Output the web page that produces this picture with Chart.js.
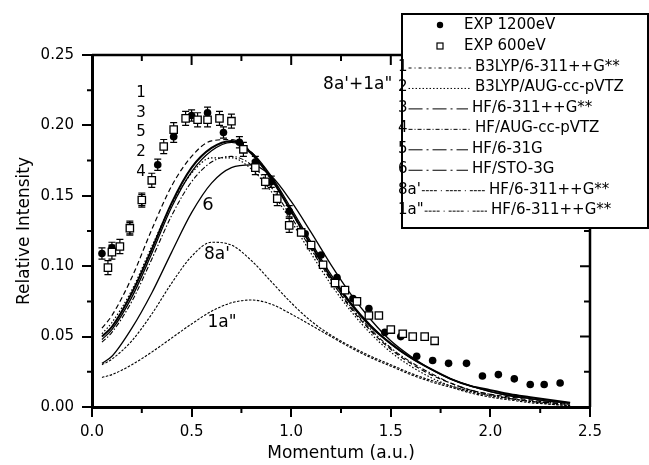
<!DOCTYPE html>
<html>
<head>
<meta charset="utf-8">
<script src="https://cdn.jsdelivr.net/npm/chart.js@4/dist/chart.umd.min.js"></script>
<style>
  html, body { margin: 0; padding: 0; background: #fff; }
  #wrap { width: 649px; height: 465px; }
</style>
</head>
<body>
<div id="wrap"><canvas id="chart" width="649" height="465"></canvas></div>
<script>
// momentum grid of the calculated curves (a.u.)
const momentum = [0.05, 0.1, 0.2, 0.3, 0.4, 0.5, 0.6, 0.7, 0.8, 0.9, 1.0, 1.1, 1.2, 1.3, 1.4, 1.5, 1.6, 1.7, 1.8, 1.9, 2.0, 2.1, 2.2, 2.3, 2.4];

const b3lyp6311 = [0.056, 0.065, 0.092, 0.126, 0.157, 0.178, 0.189, 0.190, 0.181, 0.163, 0.139, 0.113, 0.090, 0.070, 0.054, 0.041, 0.031, 0.023, 0.017, 0.012, 0.009, 0.007, 0.005, 0.003, 0.002];
const b3lypAug   = [0.052, 0.060, 0.083, 0.114, 0.144, 0.166, 0.177, 0.177, 0.169, 0.153, 0.132, 0.109, 0.087, 0.068, 0.052, 0.039, 0.029, 0.021, 0.015, 0.011, 0.008, 0.006, 0.004, 0.003, 0.002];
const hf6311     = [0.050, 0.057, 0.081, 0.112, 0.145, 0.170, 0.184, 0.189, 0.180, 0.162, 0.139, 0.115, 0.092, 0.073, 0.057, 0.045, 0.035, 0.027, 0.020, 0.015, 0.012, 0.009, 0.007, 0.005, 0.003];
const hfAug      = [0.046, 0.053, 0.075, 0.105, 0.136, 0.160, 0.174, 0.178, 0.172, 0.156, 0.135, 0.112, 0.090, 0.071, 0.055, 0.042, 0.032, 0.024, 0.017, 0.012, 0.009, 0.006, 0.004, 0.003, 0.002];
const hf631g     = [0.048, 0.055, 0.078, 0.109, 0.142, 0.167, 0.182, 0.188, 0.181, 0.164, 0.141, 0.117, 0.094, 0.074, 0.058, 0.045, 0.035, 0.027, 0.020, 0.015, 0.011, 0.008, 0.006, 0.004, 0.003];
const hfSto3g    = [0.031, 0.036, 0.056, 0.081, 0.110, 0.138, 0.159, 0.170, 0.172, 0.164, 0.146, 0.124, 0.101, 0.080, 0.062, 0.047, 0.036, 0.027, 0.020, 0.015, 0.011, 0.008, 0.006, 0.004, 0.003];
const orb8a      = [0.030, 0.034, 0.047, 0.066, 0.088, 0.107, 0.117, 0.115, 0.104, 0.089, 0.074, 0.061, 0.051, 0.043, 0.036, 0.030, 0.024, 0.019, 0.015, 0.011, 0.008, 0.006, 0.004, 0.002, 0.001];
const orb1a      = [0.021, 0.023, 0.030, 0.039, 0.049, 0.059, 0.068, 0.074, 0.076, 0.073, 0.066, 0.058, 0.050, 0.042, 0.035, 0.029, 0.023, 0.018, 0.014, 0.010, 0.007, 0.005, 0.003, 0.002, 0.001];

// experiment, 1200 eV
const exp1200X   = [0.05, 0.10, 0.19, 0.25, 0.33, 0.41, 0.50, 0.58, 0.66, 0.74, 0.82, 0.90, 0.99, 1.07, 1.15, 1.23, 1.31, 1.39, 1.47, 1.55, 1.63, 1.71, 1.79, 1.88, 1.96, 2.04, 2.12, 2.20, 2.27, 2.35];
const exp1200Y   = [0.109, 0.113, 0.127, 0.147, 0.172, 0.192, 0.207, 0.209, 0.195, 0.188, 0.174, 0.160, 0.139, 0.123, 0.108, 0.092, 0.077, 0.070, 0.053, 0.050, 0.036, 0.033, 0.031, 0.031, 0.022, 0.023, 0.020, 0.016, 0.016, 0.017];
const exp1200Err = [0.004, 0.004, 0.004, 0.004, 0.004, 0.004, 0.004, 0.004, 0.004, 0.004, 0.004, 0.004, 0.004, 0, 0, 0, 0, 0, 0, 0, 0, 0, 0, 0, 0, 0, 0, 0, 0, 0];

// experiment, 600 eV
const exp600X    = [0.08, 0.10, 0.14, 0.19, 0.25, 0.30, 0.36, 0.41, 0.47, 0.53, 0.58, 0.64, 0.70, 0.76, 0.82, 0.87, 0.93, 0.99, 1.05, 1.10, 1.16, 1.22, 1.27, 1.33, 1.39, 1.44, 1.50, 1.56, 1.61, 1.67, 1.72];
const exp600Y    = [0.099, 0.110, 0.114, 0.127, 0.147, 0.161, 0.185, 0.197, 0.205, 0.204, 0.204, 0.205, 0.203, 0.183, 0.170, 0.160, 0.148, 0.129, 0.124, 0.115, 0.101, 0.088, 0.083, 0.075, 0.065, 0.065, 0.055, 0.052, 0.050, 0.050, 0.047];
const exp600Err  = [0.005, 0.005, 0.005, 0.005, 0.005, 0.005, 0.005, 0.005, 0.005, 0.005, 0.005, 0.005, 0.005, 0.005, 0.005, 0.005, 0.005, 0.005, 0, 0, 0, 0, 0, 0, 0, 0, 0, 0, 0, 0, 0];

const xTickLabels = ['0.0', '0.5', '1.0', '1.5', '2.0', '2.5'];
const yTickLabels = ['0.00', '0.05', '0.10', '0.15', '0.20', '0.25'];

const seriesCodes = ['1', '2', '3', '4', '5', '6', "8a'", '1a"'];
const seriesNames = ['B3LYP/6-311++G**', 'B3LYP/AUG-cc-pVTZ', 'HF/6-311++G**', 'HF/AUG-cc-pVTZ', 'HF/6-31G', 'HF/STO-3G', 'HF/6-311++G**', 'HF/6-311++G**'];

const FONT = 'DejaVu Sans';
Chart.defaults.font.family = FONT;
Chart.defaults.color = '#000';

const pts = (xs, ys) => xs.map((x, i) => ({ x: x, y: ys[i] }));

function curve(i, values, width, dash, legendDash) {
  return {
    label: seriesCodes[i] + ' ' + seriesNames[i],
    code: seriesCodes[i],
    name: seriesNames[i],
    data: pts(momentum, values),
    borderColor: '#000',
    borderWidth: width,
    borderDash: dash,
    legendDash: legendDash,
    pointRadius: 0,
    fill: false,
    cubicInterpolationMode: 'monotone'
  };
}

const errorBars = {
  id: 'errorBars',
  beforeDatasetsDraw(chart) {
    const { ctx, scales: { x, y } } = chart;
    ctx.save();
    ctx.strokeStyle = '#000';
    ctx.lineWidth = 1.2;
    chart.data.datasets.forEach(ds => {
      if (!ds.errors) return;
      ds.data.forEach((p, i) => {
        const e = ds.errors[i];
        if (!e) return;
        const px = x.getPixelForValue(p.x);
        const top = y.getPixelForValue(p.y + e);
        const bot = y.getPixelForValue(p.y - e);
        ctx.beginPath();
        ctx.moveTo(px, top); ctx.lineTo(px, bot);
        ctx.moveTo(px - 3.5, top); ctx.lineTo(px + 3.5, top);
        ctx.moveTo(px - 3.5, bot); ctx.lineTo(px + 3.5, bot);
        ctx.stroke();
      });
    });
    ctx.restore();
  }
};

// text written inside the plot, placed in data units
const notes = [
  { text: '1', x: 0.246, y: 0.223, size: 15, align: 'center' },
  { text: '3', x: 0.246, y: 0.209, size: 15, align: 'center' },
  { text: '5', x: 0.246, y: 0.195, size: 15, align: 'center' },
  { text: '2', x: 0.246, y: 0.181, size: 15, align: 'center' },
  { text: '4', x: 0.246, y: 0.167, size: 15, align: 'center' },
  { text: '6', x: 0.582, y: 0.1435, size: 18, align: 'center' },
  { text: "8a'", x: 0.627, y: 0.108, size: 17, align: 'center' },
  { text: '1a"', x: 0.653, y: 0.060, size: 17, align: 'center' },
  { text: "8a'+1a\"", x: 1.16, y: 0.2287, size: 17, align: 'left' }
];

const frame = {
  id: 'frame',
  afterDraw(chart) {
    const { ctx, chartArea: a, scales: { x, y } } = chart;
    ctx.save();
    ctx.strokeStyle = '#000';
    ctx.fillStyle = '#000';

    // top and right sides of the box
    ctx.lineWidth = 2.5;
    ctx.beginPath();
    ctx.moveTo(a.left, a.top); ctx.lineTo(a.right, a.top); ctx.lineTo(a.right, a.bottom);
    ctx.stroke();

    // minor ticks outside, mirrored ticks inside
    ctx.lineWidth = 2;
    ctx.beginPath();
    for (let k = 0; k <= 10; k++) {
      const px = x.getPixelForValue(k * 0.25);
      const major = k % 2 === 0;
      if (!major) { ctx.moveTo(px, a.bottom); ctx.lineTo(px, a.bottom + 6); }
      ctx.moveTo(px, a.top); ctx.lineTo(px, a.top + (major ? 10 : 6));
    }
    for (let k = 0; k <= 10; k++) {
      const py = y.getPixelForValue(k * 0.025);
      const major = k % 2 === 0;
      if (!major) { ctx.moveTo(a.left, py); ctx.lineTo(a.left - 5, py); }
      ctx.moveTo(a.right, py); ctx.lineTo(a.right - (major ? 10 : 6), py);
    }
    ctx.stroke();

    // labels inside the plot
    ctx.textBaseline = 'middle';
    notes.forEach(n => {
      ctx.font = n.size + 'px "' + FONT + '"';
      ctx.textAlign = n.align;
      ctx.fillText(n.text, x.getPixelForValue(n.x), y.getPixelForValue(n.y));
    });

    // legend box
    const box = { left: 402, top: 14, right: 648, bottom: 228 };
    ctx.fillStyle = '#fff';
    ctx.fillRect(box.left, box.top, box.right - box.left, box.bottom - box.top);
    ctx.lineWidth = 2;
    ctx.strokeRect(box.left, box.top, box.right - box.left, box.bottom - box.top);

    ctx.fillStyle = '#000';
    ctx.font = '15px "' + FONT + '"';
    ctx.textAlign = 'left';
    ctx.textBaseline = 'middle';

    const sets = chart.data.datasets;
    // experiment rows
    const rowExp = [25, 46];
    [sets[1], sets[0]].forEach((ds, r) => {
      const cy = rowExp[r];
      if (ds.pointStyle === 'circle') {
        ctx.beginPath();
        ctx.arc(440, cy, 3.2, 0, Math.PI * 2);
        ctx.fill();
      } else {
        ctx.fillStyle = '#fff';
        ctx.fillRect(437, cy - 3, 6, 6);
        ctx.lineWidth = 1.2;
        ctx.strokeRect(437, cy - 3, 6, 6);
        ctx.fillStyle = '#000';
      }
      ctx.fillText(ds.label, 464, cy);
    });

    // calculation rows
    const rowTop = 67, rowStep = 20.45;
    const nameX = [475, 475, 472, 475, 472, 472, 489, 491];
    sets.slice(2).forEach((ds, r) => {
      const cy = rowTop + r * rowStep;
      ctx.fillText(ds.code, 398, cy);
      const x0 = 398 + ctx.measureText(ds.code).width + 1;
      const x1 = nameX[r] - 4;
      ctx.save();
      ctx.lineWidth = 1;
      ctx.setLineDash(ds.legendDash);
      ctx.beginPath();
      ctx.moveTo(x0, cy + 1); ctx.lineTo(x1, cy + 1);
      ctx.stroke();
      ctx.restore();
      ctx.fillText(ds.name, nameX[r], cy);
    });
    ctx.restore();
  }
};

new Chart(document.getElementById('chart'), {
  type: 'line',
  data: {
    datasets: [
      {
        label: 'EXP 600eV',
        data: pts(exp600X, exp600Y),
        errors: exp600Err,
        showLine: false,
        pointStyle: 'rect',
        pointRadius: 5.2,
        pointBackgroundColor: '#fff',
        pointBorderColor: '#000',
        pointBorderWidth: 1.3
      },
      {
        label: 'EXP 1200eV',
        data: pts(exp1200X, exp1200Y),
        errors: exp1200Err,
        showLine: false,
        pointStyle: 'circle',
        pointRadius: 3.8,
        pointBackgroundColor: '#000',
        pointBorderColor: '#000',
        pointBorderWidth: 0
      },
      curve(0, b3lyp6311, 1.2, [5, 3], [3, 3, 1, 3]),
      curve(1, b3lypAug, 1.2, [1.5, 2], [1.5, 2]),
      curve(2, hf6311, 2, [], [14, 4, 2, 4]),
      curve(3, hfAug, 1.1, [5, 2, 1.5, 2], [4, 2, 1, 2]),
      curve(4, hf631g, 1.3, [], [14, 4, 2, 4]),
      curve(5, hfSto3g, 1.3, [], [14, 4, 2, 4]),
      curve(6, orb8a, 1.1, [2.5, 1.5], [3, 1, 3, 1, 3, 1, 3, 4, 1, 4]),
      curve(7, orb1a, 1.1, [2.5, 1.5], [3, 1, 3, 1, 3, 1, 3, 4, 1, 4])
    ]
  },
  options: {
    responsive: false,
    animation: false,
    devicePixelRatio: 1,
    layout: { padding: { top: 55, right: 59, left: 0, bottom: 0 } },
    plugins: {
      legend: { display: false },
      tooltip: { enabled: false }
    },
    scales: {
      x: {
        type: 'linear',
        min: 0,
        max: 2.5,
        afterFit: s => { s.height = 58; },
        ticks: {
          stepSize: 0.5,
          padding: 6,
          font: { size: 15 },
          color: '#000',
          callback: (v, i) => xTickLabels[i]
        },
        grid: { drawOnChartArea: false, tickLength: 10, lineWidth: 2, color: '#000' },
        border: { display: true, width: 3, color: '#000' },
        title: { display: true, text: 'Momentum (a.u.)', font: { size: 17 }, color: '#000', padding: { top: 0, bottom: 1 } }
      },
      y: {
        min: 0,
        max: 0.25,
        afterFit: s => { s.width = 92; },
        ticks: {
          stepSize: 0.05,
          padding: 8,
          font: { size: 15 },
          color: '#000',
          callback: (v, i) => yTickLabels[i]
        },
        grid: { drawOnChartArea: false, tickLength: 10, lineWidth: 2, color: '#000' },
        border: { display: true, width: 3, color: '#000' },
        title: { display: true, text: 'Relative Intensity', font: { size: 17 }, color: '#000', padding: { top: 14, bottom: 0 } }
      }
    }
  },
  plugins: [errorBars, frame]
});
</script>
</body>
</html>
